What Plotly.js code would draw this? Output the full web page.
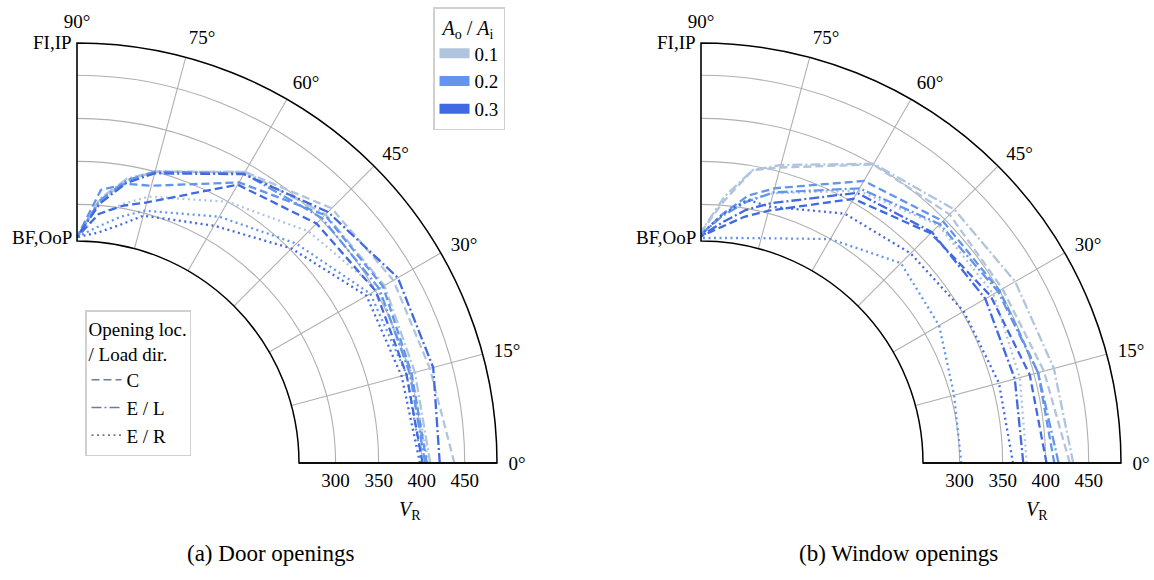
<!DOCTYPE html>
<html>
<head>
<meta charset="utf-8">
<script src="https://cdn.plot.ly/plotly-3.0.1.min.js"></script>
<style>html,body{margin:0;padding:0;background:#fff;}#chart{width:1154px;height:580px;}</style>
</head>
<body>
<div id="chart"></div>
<script>
// Load angle (degrees) at which V_R was read
const angleDeg = [0, 15, 30, 45, 60, 75, 80, 85, 90];
const ratioLabels = ['0.1', '0.2', '0.3'];
const styleLabels = ['C', 'E / L', 'E / R'];
const radialTicks = [300, 350, 400, 450];
const angularTicks = [0, 15, 30, 45, 60, 75, 90];
const angularTickText = ['0°', '15°', '30°', '45°', '60°', '75°', '90°'];

// (a) Door openings  — V_R at angleDeg
const doorC_01  = [438, 424, 424, 418, 390, 350, 333, 305, 262];
const doorC_02  = [406, 402, 410, 407, 376, 333, 329, 318, 262];
const doorC_03  = [401, 396, 400, 393, 373, 313, 303, 290, 262];
const doorEL_01 = [410, 406, 412, 408, 390, 350, 335, 308, 262];
const doorEL_02 = [404, 400, 405, 402, 388, 350, 333, 306, 262];
const doorEL_03 = [421, 428, 430, 412, 387, 348, 330, 302, 262];
const doorER_01 = [408, 402, 403, 380, 350, 320, 305, 290, 262];
const doorER_02 = [400, 396, 393, 360, 330, 303, 290, 275, 262];
const doorER_03 = [398, 390, 388, 352, 318, 297, 280, 268, 262];

// (b) Window openings
const winC_01  = [428, 412, 404, 408, 400, 355, 345, 305, 268];
const winC_02  = [410, 405, 400, 397, 378, 330, 315, 290, 265];
const winC_03  = [401, 395, 388, 377, 354, 303, 290, 275, 263];
const winEL_01 = [432, 424, 421, 416, 401, 358, 345, 310, 268];
const winEL_02 = [415, 405, 398, 392, 368, 325, 308, 288, 265];
const winEL_03 = [374, 377, 381, 379, 362, 312, 298, 280, 263];
const winER_01 = [378, 383, 392, 390, 365, 324, 310, 290, 265];
const winER_02 = [302, 304, 319, 328, 300, 270, 265, 262, 261];
const winER_03 = [362, 358, 352, 344, 334, 308, 310, 290, 265];

const colors = ['#B0C4DE', '#6495ED', '#4169E1'];
const dashes = ['8px,4px', '10px,3px,2px,3px', '2px,3.5px'];
const FONT = 'Liberation Serif, DejaVu Serif, serif';

const doorSeries = [[doorC_01, doorC_02, doorC_03], [doorEL_01, doorEL_02, doorEL_03], [doorER_01, doorER_02, doorER_03]];
const winSeries  = [[winC_01, winC_02, winC_03], [winEL_01, winEL_02, winEL_03], [winER_01, winER_02, winER_03]];

const traces = [];
function addPanel(series, subplot) {
  for (let c = 0; c < 3; c++) {
    for (let s = 0; s < 3; s++) {
      traces.push({
        type: 'scatterpolar', mode: 'lines', subplot: subplot,
        r: series[s][c], theta: angleDeg,
        line: {color: colors[c], width: 2.3, dash: dashes[s]},
        showlegend: false, hoverinfo: 'skip'
      });
    }
  }
}
addPanel(doorSeries, 'polar');
addPanel(winSeries, 'polar2');

// legend entries: opening ratio (colour)
ratioLabels.forEach((lab, i) => {
  traces.push({type: 'scatterpolar', mode: 'lines', subplot: 'polar', r: [null], theta: [null],
    name: lab, legend: 'legend', line: {color: colors[i], width: 15}, showlegend: true});
});
// legend entries: opening location / load direction (style)
styleLabels.forEach((lab, i) => {
  traces.push({type: 'scatterpolar', mode: 'lines', subplot: 'polar', r: [null], theta: [null],
    name: lab, legend: 'legend2', line: {color: '#6b7c99', width: 1.6, dash: dashes[i]}, showlegend: true});
});

function polarLayout(xdom) {
  return {
    domain: {x: xdom, y: [117/580, 537/580]},
    sector: [0, 90],
    hole: 222/420,
    bgcolor: 'white',
    radialaxis: {
      range: [257.5, 487.5], angle: 0, side: 'clockwise',
      tickvals: radialTicks, ticks: '', showline: true, linecolor: 'black', linewidth: 1.5,
      gridcolor: '#b0b0b0', gridwidth: 1.1,
      tickfont: {family: FONT, size: 19, color: 'black'}
    },
    angularaxis: {
      direction: 'counterclockwise', rotation: 0, thetaunit: 'degrees',
      tickmode: 'array', tickvals: angularTicks, ticktext: angularTickText,
      ticks: 'outside', ticklen: 7, tickcolor: 'rgba(0,0,0,0)',
      showline: true, linecolor: 'black', linewidth: 1.5,
      gridcolor: '#b0b0b0', gridwidth: 1.1,
      tickfont: {family: FONT, size: 19, color: 'black'}
    }
  };
}

const ann = [];
function txt(x, y, text, xanchor, size) {
  ann.push({xref: 'paper', yref: 'paper', x: x/1154, y: 1 - y/580, text: text, showarrow: false,
    xanchor: xanchor || 'center', yanchor: 'middle', font: {family: FONT, size: size || 19, color: 'black'}});
}
txt(74, 43, 'FI,IP', 'right');
txt(74, 237, 'BF,OoP', 'right');
txt(698, 43, 'FI,IP', 'right');
txt(698, 237, 'BF,OoP', 'right');
txt(410, 510, '<i>V</i><sub>R</sub>', 'center', 20);
txt(1037, 510, '<i>V</i><sub>R</sub>', 'center', 20);
txt(270, 553, '(a) Door openings', 'center', 23);
txt(898, 553, '(b) Window openings', 'center', 23);

const layout = {
  width: 1154, height: 580,
  margin: {l: 0, r: 0, t: 0, b: 0},
  paper_bgcolor: 'white',
  font: {family: FONT, size: 19, color: 'black'},
  polar: polarLayout([77/1154, 497/1154]),
  polar2: polarLayout([701/1154, 1121/1154]),
  legend: {
    x: 433/1154, y: 1 - 7/580, xanchor: 'left', yanchor: 'top',
    bgcolor: 'white', bordercolor: '#d0d0d0', borderwidth: 1.5,
    font: {family: FONT, size: 19}, tracegroupgap: 4,
    title: {text: '<i>A</i><sub>o</sub> / <i>A</i><sub>i</sub>', side: 'top center', font: {family: FONT, size: 20}}
  },
  legend2: {
    x: 85/1154, y: 1 - 310/580, xanchor: 'left', yanchor: 'top',
    bgcolor: 'white', bordercolor: '#d0d0d0', borderwidth: 1.5,
    font: {family: FONT, size: 19},
    title: {text: 'Opening loc.<br>/ Load dir.', side: 'top', font: {family: FONT, size: 19}}
  },
  annotations: ann,
  showlegend: true
};

Plotly.newPlot('chart', traces, layout, {displayModeBar: false, staticPlot: true});
</script>
</body>
</html>
